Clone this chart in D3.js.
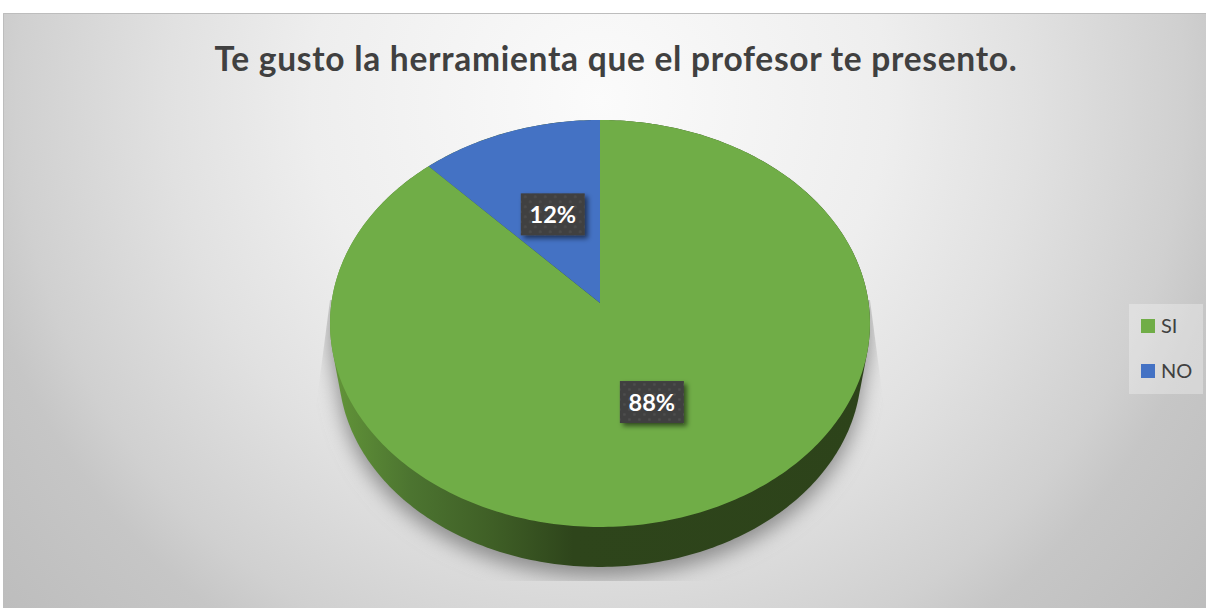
<!DOCTYPE html>
<html>
<head>
<meta charset="utf-8">
<script src="https://cdn.jsdelivr.net/npm/d3@7"></script>
<style>
  html, body { margin: 0; padding: 0; background: #fff; }
  svg { display: block; }
  text { font-family: Lato, "Open Sans", sans-serif; }
</style>
</head>
<body>
<script>
var titleText = "Te gusto la herramienta que el profesor te presento.";
var categories = ["SI", "NO"];
var values = [88, 12];
var colors = ["#70ad47", "#4472c4"];

var width = 1206;
var height = 608;

// the pie is a tilted disc, so project the circle instead of squashing it
var topPlane = {cx: 600, cy: 303, a: 268.6, b: 201.4, k: 0.1007};
var basePlane = {cx: 600, cy: 349, a: 260, b: 196, k: 0.1007};

function project(plane, angle, r) {
    var u = Math.sin(angle) * r;
    var v = -Math.cos(angle) * r;
    var d = 1 - plane.k * v;
    return [plane.cx + plane.a * u / d, plane.cy + plane.b * v / d];
}

function rim(plane, start, end) {
    var n = Math.max(2, Math.ceil((end - start) * 60));
    return d3.range(n + 1).map(function(i) {
        return project(plane, start + (end - start) * i / n, 1);
    });
}

var svg = d3.select("body").append("svg")
            .attr("width", width)
            .attr("height", height);

var defs = svg.append("defs");

var bg = defs.append("radialGradient")
             .attr("id", "bg")
             .attr("gradientUnits", "userSpaceOnUse")
             .attr("cx", 600).attr("cy", 100).attr("r", 800);
bg.append("stop").attr("offset", "0%").attr("stop-color", "#fbfbfb");
bg.append("stop").attr("offset", "36%").attr("stop-color", "#eeeeee");
bg.append("stop").attr("offset", "54%").attr("stop-color", "#e1e1e1");
bg.append("stop").attr("offset", "73%").attr("stop-color", "#d0d0d0");
bg.append("stop").attr("offset", "80%").attr("stop-color", "#c6c6c6");
bg.append("stop").attr("offset", "100%").attr("stop-color", "#bcbcbc");

var wall = defs.append("linearGradient")
               .attr("id", "wall")
               .attr("gradientUnits", "userSpaceOnUse")
               .attr("x1", 330).attr("x2", 870).attr("y1", 0).attr("y2", 0);
wall.append("stop").attr("offset", "0%").attr("stop-color", "#639639");
wall.append("stop").attr("offset", "15%").attr("stop-color", "#4c7430");
wall.append("stop").attr("offset", "30%").attr("stop-color", "#3f5f26");
wall.append("stop").attr("offset", "45%").attr("stop-color", "#2e451b");
wall.append("stop").attr("offset", "100%").attr("stop-color", "#2d431a");

defs.append("filter").attr("id", "blur")
    .attr("x", "-20%").attr("y", "-20%").attr("width", "140%").attr("height", "140%")
    .append("feGaussianBlur").attr("stdDeviation", 10);

var labelShadow = defs.append("filter").attr("id", "labelShadow")
    .attr("x", "-20%").attr("y", "-20%").attr("width", "150%").attr("height", "160%");
labelShadow.append("feDropShadow")
    .attr("dx", 3).attr("dy", 3).attr("stdDeviation", 2.5)
    .attr("flood-color", "#000").attr("flood-opacity", 0.55);

var dots = defs.append("pattern").attr("id", "dots")
    .attr("patternUnits", "userSpaceOnUse")
    .attr("width", 10).attr("height", 10);
dots.append("rect").attr("width", 10).attr("height", 10).attr("fill", "#404040");
dots.append("circle").attr("cx", 2.5).attr("cy", 2.5).attr("r", 1.3).attr("fill", "#4e4e4e");
dots.append("circle").attr("cx", 7.5).attr("cy", 7.5).attr("r", 1.3).attr("fill", "#4e4e4e");

defs.append("clipPath").attr("id", "shadowClip")
    .append("polygon")
    .attr("points", [[330, 300], [870, 300], [889, 445], [889, 581], [311, 581], [311, 445]].join(" "));

// background
svg.append("rect")
   .attr("x", 3).attr("y", 13)
   .attr("width", width - 3).attr("height", height - 13)
   .attr("fill", "url(#bg)");
svg.append("path")
   .attr("d", "M3.5," + height + "V13.5H" + width)
   .attr("fill", "none")
   .attr("stroke", "#bdbdbd");

// title
svg.append("text")
   .attr("x", 616).attr("y", 71)
   .attr("text-anchor", "middle")
   .attr("font-size", 33.5)
   .attr("letter-spacing", 0.72)
   .attr("font-weight", 700)
   .attr("fill", "#404040")
   .text(titleText);

var line = d3.line();

var pie = d3.pie().sort(null);
var slices = pie(values);
var fullCircle = Math.PI * 2;

// side wall = hull of the top and bottom rims
var hull = d3.polygonHull(rim(topPlane, 0, fullCircle).concat(rim(basePlane, 0, fullCircle)));

// ground shadow
svg.append("g")
   .attr("clip-path", "url(#shadowClip)")
   .append("path")
   .attr("d", line(hull) + "Z")
   .attr("transform", "translate(0, 10)")
   .attr("fill", "#8c8c8c")
   .attr("filter", "url(#blur)");

svg.append("path")
   .attr("d", line(hull) + "Z")
   .attr("fill", "url(#wall)");

// top face
svg.append("g")
   .selectAll("path")
   .data(slices)
   .enter()
   .append("path")
   .attr("d", function(d) {
       var pts = rim(topPlane, d.startAngle, d.endAngle);
       pts.push([topPlane.cx, topPlane.cy]);
       return line(pts) + "Z";
   })
   .attr("fill", function(d, i) { return colors[i]; });

// data labels
var boxW = 64;
var boxH = 42;
var labels = svg.append("g")
    .selectAll("g")
    .data(slices)
    .enter()
    .append("g")
    .attr("transform", function(d) {
        var p = project(topPlane, (d.startAngle + d.endAngle) / 2, 0.5);
        return "translate(" + p[0] + ", " + (p[1] + 0.8) + ")";
    });

labels.append("rect")
      .attr("x", -boxW / 2).attr("y", -boxH / 2)
      .attr("width", boxW).attr("height", boxH)
      .attr("fill", "url(#dots)")
      .attr("filter", "url(#labelShadow)");

labels.append("text")
      .attr("text-anchor", "middle")
      .attr("y", 8.5)
      .attr("font-size", 23.5)
      .attr("font-weight", 700)
      .attr("fill", "#fff")
      .text(function(d) { return d.value + "%"; });

// legend
svg.append("rect")
   .attr("x", 1129).attr("y", 304)
   .attr("width", 74).attr("height", 90)
   .attr("fill", "#fff").attr("fill-opacity", 0.3);

var legendY = d3.scalePoint().domain(categories).range([326, 371]);

var legend = svg.append("g")
    .selectAll("g")
    .data(categories)
    .enter()
    .append("g")
    .attr("transform", function(d) { return "translate(1141, " + legendY(d) + ")"; });

legend.append("rect")
      .attr("y", -7).attr("width", 14).attr("height", 14)
      .attr("fill", function(d, i) { return colors[i]; });

legend.append("text")
      .attr("x", 20).attr("y", 6.5)
      .attr("font-size", 20)
      .attr("fill", "#404040")
      .text(function(d) { return d; });
</script>
</body>
</html>
